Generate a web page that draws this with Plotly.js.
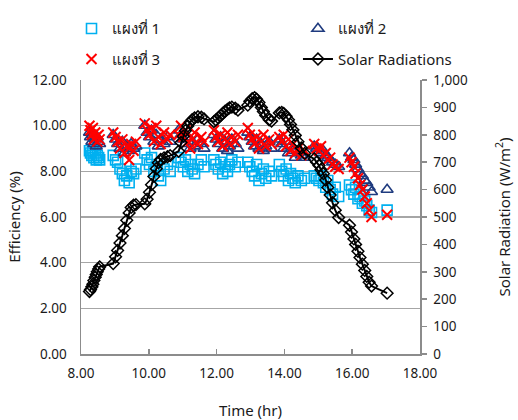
<!DOCTYPE html>
<html>
<head>
<meta charset="utf-8">
<script src="https://cdn.plot.ly/plotly-3.0.1.min.js"></script>
<style>html,body{margin:0;padding:0;background:#fff;}#chart{width:518px;height:420px;}</style>
</head>
<body>
<div id="chart"></div>
<script>
// Time of measurement (hr)
const time = [
  8.25, 8.28, 8.32, 8.35, 8.38, 8.42, 8.45, 8.48, 8.52, 8.55,
  8.95, 9.02, 9.08, 9.15, 9.22, 9.28, 9.35, 9.42, 9.48, 9.55, 9.62,
  9.88, 9.95, 10.02, 10.08, 10.15, 10.22, 10.28, 10.35, 10.45, 10.55, 10.63,
  10.88, 10.95, 11.02, 11.08, 11.15, 11.22, 11.28, 11.35, 11.45, 11.55, 11.63,
  11.92, 11.98, 12.05, 12.12, 12.18, 12.25, 12.32, 12.38, 12.45, 12.55, 12.63,
  12.92, 12.98, 13.05, 13.12, 13.18, 13.25, 13.32, 13.38, 13.45, 13.55, 13.62,
  13.85, 13.92, 13.98, 14.05, 14.12, 14.18, 14.25, 14.32, 14.40, 14.50, 14.60,
  14.88, 14.95, 15.02, 15.08, 15.15, 15.22, 15.28, 15.35, 15.42, 15.50, 15.60,
  15.92, 15.98, 16.05, 16.10, 16.17, 16.23, 16.30, 16.37, 16.43, 16.50, 16.57,
  17.03
];
// Efficiency (%) panel 1
const panel1 = [
  8.9, 8.8, 8.7, 8.9, 8.6, 8.8, 8.5, 8.7, 8.6, 8.5,
  8.7, 8.5, 8.4, 8.1, 7.9, 7.6, 7.8, 7.5, 8.0, 7.9, 8.1,
  8.8, 8.5, 8.3, 8.6, 8.0, 8.2, 7.8, 7.6, 8.1, 8.3, 8.0,
  8.6, 8.4, 8.2, 8.5, 8.0, 8.3, 8.1, 7.9, 8.3, 8.5, 8.2,
  8.5, 8.3, 8.1, 8.4, 7.9, 8.2, 8.0, 8.3, 8.5, 8.2, 8.4,
  8.4, 8.2, 8.0, 7.8, 8.3, 7.6, 7.9, 8.1, 7.7, 8.0, 7.8,
  8.3, 8.0, 7.8, 8.1, 7.6, 7.9, 7.7, 7.5, 7.8, 7.6, 7.7,
  7.8, 7.7, 7.6, 7.8, 7.5, 7.3, 7.6, 7.2, 7.0, 7.3, 6.9,
  7.4, 7.2, 7.0, 7.3, 6.8, 6.9, 6.6, 6.7, 6.5, 6.3, 6.2,
  6.3
];
// Efficiency (%) panel 2
const panel2 = [
  9.7, 9.5, 9.3, 9.6, 9.2, 9.4, 9.1, 9.5, 9.3, 9.2,
  9.6, 9.4, 9.2, 9.0, 9.3, 8.8, 9.1, 8.9, 9.2, 9.0, 9.1,
  10.0, 9.7, 9.5, 9.8, 9.3, 9.6, 9.1, 9.4, 9.2, 9.5, 9.3,
  9.8, 9.6, 9.4, 9.2, 9.5, 9.0, 9.3, 9.1, 9.4, 9.2, 9.0,
  9.6, 9.4, 9.2, 9.5, 9.0, 9.3, 8.9, 9.1, 9.4, 9.2, 9.0,
  9.7, 9.5, 9.3, 9.1, 9.4, 9.0, 9.2, 8.9, 9.1, 9.3, 9.0,
  9.4, 9.2, 9.0, 9.3, 8.8, 9.1, 8.9, 8.6, 8.8, 8.7, 8.6,
  9.1, 9.0, 8.9, 8.8, 8.9, 8.7, 8.6, 8.5, 8.4, 8.3, 8.2,
  8.8, 8.6, 8.5, 8.3, 8.1, 7.9, 7.8, 7.6, 7.5, 7.3, 7.1,
  7.2
];
// Efficiency (%) panel 3
const panel3 = [
  10.0, 9.8, 9.6, 9.9, 9.4, 9.7, 9.5, 9.3, 9.6, 9.4,
  9.7, 9.5, 9.3, 9.0, 9.4, 8.8, 9.1, 8.5, 9.2, 8.9, 9.3,
  10.1, 9.8, 9.6, 9.9, 9.3, 10.0, 9.5, 9.2, 9.7, 9.4, 9.6,
  9.6, 10.0, 9.5, 9.8, 9.3, 9.0, 9.4, 9.7, 9.2, 9.5, 9.3,
  9.8, 9.5, 9.3, 9.6, 9.1, 9.4, 9.7, 9.2, 9.5, 9.3, 9.6,
  9.9, 9.6, 9.4, 9.2, 9.5, 9.0, 9.3, 9.6, 9.1, 9.4, 9.2,
  9.5, 9.3, 9.6, 9.1, 9.4, 8.9, 9.2, 8.8, 9.0, 8.7, 8.9,
  9.2, 9.0, 8.9, 9.1, 8.7, 8.8, 8.5, 8.6, 8.3, 8.2, 8.1,
  8.6, 8.4, 8.2, 7.9, 7.7, 7.4, 7.2, 6.9, 6.6, 6.3, 6.0,
  6.1
];
// Solar radiation (W/m2)
const radiation = [
  228, 235, 245, 255, 268, 280, 290, 300, 310, 318,
  330, 355, 378, 405, 432, 458, 488, 515, 535, 543, 545,
  548, 565, 590, 618, 648, 676, 698, 710, 716, 720, 724,
  740, 772, 795, 815, 832, 846, 855, 862, 866, 864, 858,
  848, 854, 862, 870, 878, 886, 893, 898, 901, 897, 890,
  908, 922, 932, 936, 930, 918, 900, 885, 870, 855, 850,
  880, 882, 878, 868, 855, 838, 818, 798, 775, 752, 732,
  712, 700, 688, 672, 658, 635, 608, 580, 552, 525, 498,
  470, 445, 420, 400, 375, 352, 328, 305, 283, 262, 248,
  222
];

const seriesNames = ['แผงที่ 1', 'แผงที่ 2', 'แผงที่ 3', 'Solar Radiations'];

const FONT = 'Noto Sans, DejaVu Sans, sans-serif';
const TXT = '#1a1a1a';

const traces = [
  {x: time, y: panel1, name: seriesNames[0], type: 'scatter', mode: 'markers',
   marker: {symbol: 'square-open', size: 10, color: '#00B0F0', line: {width: 1.6, color: '#00B0F0'}},
   legend: 'legend'},
  {x: time, y: panel2, name: seriesNames[1], type: 'scatter', mode: 'markers',
   marker: {symbol: 'triangle-up-open', size: 10.5, color: '#1F3B7F', line: {width: 1.6, color: '#1F3B7F'}},
   legend: 'legend2'},
  {x: time, y: panel3, name: seriesNames[2], type: 'scatter', mode: 'markers',
   marker: {symbol: 'x-thin-open', size: 10, color: '#FF0000', line: {width: 2, color: '#FF0000'}},
   legend: 'legend3'},
  {x: time, y: radiation, name: seriesNames[3], type: 'scatter', mode: 'lines+markers', yaxis: 'y2',
   line: {color: '#000000', width: 2},
   marker: {symbol: 'diamond-open', size: 9, color: '#000000', line: {width: 1.5, color: '#000000'}},
   legend: 'legend4'}
];

function leg(x, y) {
  return {x: x, y: y, xanchor: 'left', yanchor: 'top', orientation: 'v',
          font: {family: FONT, size: 15, color: TXT}, bgcolor: 'rgba(0,0,0,0)', borderwidth: 0};
}

const layout = {
  width: 518, height: 420,
  margin: {l: 81, r: 98, t: 75, b: 66},
  paper_bgcolor: '#ffffff', plot_bgcolor: '#ffffff',
  font: {family: FONT, size: 13.5, color: TXT},
  showlegend: true,
  legend: leg(-0.028, 1.247),
  legend2: leg(0.64, 1.247),
  legend3: leg(-0.028, 1.136),
  legend4: leg(0.64, 1.136),
  xaxis: {
    range: [8, 18], dtick: 2, tick0: 8, tickformat: '.2f',
    showgrid: false, zeroline: false,
    showline: true, linecolor: '#8c8c8c', linewidth: 1.5,
    ticks: 'inside', ticklen: 5, tickcolor: '#8c8c8c', tickwidth: 1.5,
    ticklabelstandoff: 6,
    title: {text: 'Time (hr)', font: {family: FONT, size: 15, color: TXT}, standoff: 25}
  },
  yaxis: {
    range: [0, 12], dtick: 2, tick0: 0, tickformat: '.2f',
    showgrid: true, gridcolor: '#a6a6a6', gridwidth: 1.5, zeroline: false,
    showline: true, linecolor: '#8c8c8c', linewidth: 1.5,
    ticks: '', ticklabelstandoff: 10,
    title: {text: 'Efficiency (%)', font: {family: FONT, size: 15, color: TXT}, standoff: 8}
  },
  yaxis2: {
    range: [0, 1000], dtick: 100, tick0: 0, tickformat: ',d',
    overlaying: 'y', side: 'right',
    showgrid: false, zeroline: false,
    showline: true, linecolor: '#8c8c8c', linewidth: 1.5,
    ticks: 'outside', ticklen: 5, tickcolor: '#8c8c8c', tickwidth: 1.5,
    ticklabelstandoff: 4,
    title: {text: 'Solar Radiation (W/m<sup>2</sup>)', font: {family: FONT, size: 15, color: TXT}, standoff: 32}
  }
};

Plotly.newPlot('chart', traces, layout, {displayModeBar: false, staticPlot: true});
</script>
</body>
</html>
